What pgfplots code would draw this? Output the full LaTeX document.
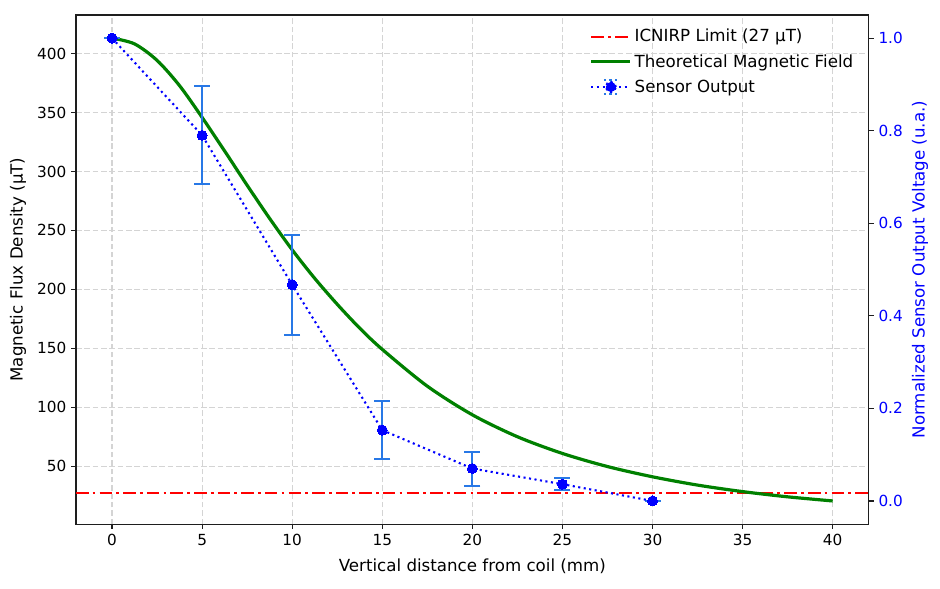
\documentclass[border=0pt]{standalone}
\usepackage{pgfplots}
\pgfplotsset{compat=1.18}
\usepackage{fontspec}
\setmainfont{DejaVu Sans}
\definecolor{ebar}{RGB}{40,120,230}
\definecolor{mgreen}{RGB}{0,128,0}
\definecolor{gridc}{RGB}{212,212,212}
\definecolor{spine}{RGB}{30,30,30}

\pgfplotstableread{
x y
0 413.2
1.25 408.3
2.5 394.3
3.75 372.8
5 345.9
6.25 317.4
7.5 288.3
8.75 260.1
10 233.5
11.25 209.3
12.5 187.3
13.75 167.0
15 149.0
17.5 117.8
20 93.5
22.5 74.9
25 60.7
27.5 49.6
30 40.9
32.5 33.85
35 28.33
37.5 23.9
40 20.4
}\theory

\pgfplotstableread{
x y e
0 1.0 0
5 0.790 0.106
10 0.467 0.108
15 0.153 0.0626
20 0.0700 0.0367
25 0.0362 0.013
30 0.0 0
}\sensor

\begin{document}
\begin{tikzpicture}
\pgfplotsset{
 every axis/.append style={
  scale only axis, width=570.7pt, height=366.5pt, at={(0,0)}, anchor=south west,
  xmin=-2, xmax=42,
  font=\fontsize{12}{14}\selectfont,
  tick label style={font=\fontsize{11}{13}\selectfont},
  /pgf/number format/assume math mode=true,
  tick align=outside, major tick length=3.5pt,
  axis line style={line width=0.8pt, spine},
  every tick/.style={spine, line width=0.8pt},
 },
}
\begin{axis}[
 ymin=0.76, ymax=432.84,
 xtick={0,5,...,40}, ytick={50,100,...,400},
 xtick pos=left, ytick pos=left,
 grid=major,
 grid style={gridc, dash pattern=on 4pt off 2pt, line width=0.8pt},
 xlabel={Vertical distance from coil (mm)},
 ylabel={Magnetic Flux Density (µT)},
 xlabel style={at={(axis description cs:0.5,-0.0825)}, anchor=center},
 ylabel style={at={(axis description cs:-0.0732,0.5)}, anchor=center},
]
\addplot[red, line width=1.5pt, dash pattern=on 9pt off 3pt on 2pt off 3pt] coordinates {(-2,27) (42,27)};
\addplot[mgreen, line width=2.3pt, smooth] table[x=x,y=y] {\theory};
\end{axis}
\begin{axis}[
 ymin=-0.05, ymax=1.05,
 hide x axis,
 axis y line*=right,
 ytick={0,0.2,...,1.0},
 yticklabel style={blue, /pgf/number format/.cd, fixed, fixed zerofill, precision=1},
 ylabel={Normalized Sensor Output Voltage (u.a.)},
 ylabel style={blue, at={(axis description cs:1.0647,0.5)}, anchor=center, rotate=0},
 legend style={draw=none, fill=none, at={(1,1)}, anchor=north east, xshift=-6pt, yshift=-6pt,
   font=\fontsize{12}{14}\selectfont, row sep=3.6pt, cells={anchor=west}},
 legend cell align=left,
 legend image code/.code={\draw[#1] (-1pt,0pt) -- (27pt,0pt);},
]
\addlegendimage{red, line width=1.5pt, dash pattern=on 9pt off 3pt on 2pt off 3pt}
\addlegendentry{ICNIRP Limit (27 µT)}
\addlegendimage{mgreen, line width=2.3pt}
\addlegendentry{Theoretical Magnetic Field}
\addplot[draw=none, mark=none, forget plot,
  error bars/.cd, y dir=both, y explicit,
  error bar style={draw=ebar, line width=1.5pt, solid},
  error mark options={draw=ebar, line width=1.5pt, mark size=5.75pt, solid, rotate=90}]
  table[x=x, y=y, y error=e] {\sensor};
\addplot[blue, line width=1.5pt, dash pattern=on 1.5pt off 2.5pt,
  mark=*, mark size=3.6pt, mark options={solid, fill=blue, draw=blue, line width=0pt},
  legend image code/.code={
    \draw[blue, line width=1.5pt, dash pattern=on 1.5pt off 2.5pt] (-1pt,0pt) -- (27pt,0pt);
    \draw[ebar, line width=1.5pt] (13pt,-4.8pt) -- (13pt,4.8pt);
    \draw[ebar, line width=1.5pt] (8pt,-4.8pt) -- (18pt,-4.8pt);
    \draw[ebar, line width=1.5pt] (8pt,4.8pt) -- (18pt,4.8pt);
    \fill[blue] (13pt,0pt) circle (3.6pt);
  }]
  table[x=x, y=y] {\sensor};
\addlegendentry{Sensor Output}
\end{axis}
\pgfresetboundingbox
\useasboundingbox (-54.72pt,-46.08pt) rectangle (622.0pt,377.3pt);
\end{tikzpicture}
\end{document}
